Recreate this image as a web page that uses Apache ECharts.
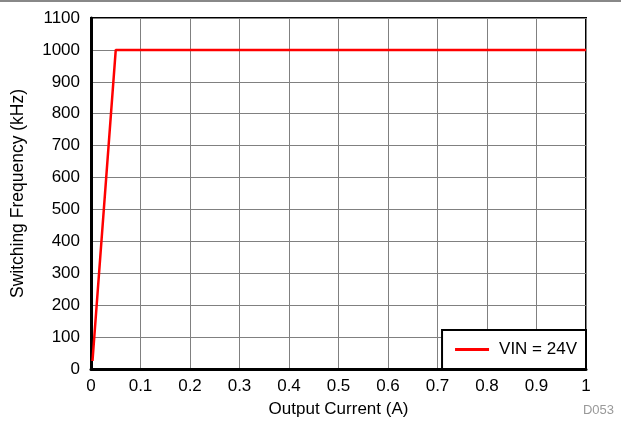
<!DOCTYPE html>
<html><head><meta charset="utf-8">
<script src="https://cdn.jsdelivr.net/npm/echarts@6/dist/echarts.min.js"></script>
<style>html,body{margin:0;padding:0;background:#fff}#c{width:621px;height:427px}</style>
</head><body><div id="c"></div>
<script>
const currentA = [0.003, 0.05, 1.0];
const freqKHz = [25, 1000, 1000];
const seriesName = 'VIN = 24V';
const xTicks = [0,0.1,0.2,0.3,0.4,0.5,0.6,0.7,0.8,0.9,1];
const yTicks = [0,100,200,300,400,500,600,700,800,900,1000,1100];

const chart = echarts.init(document.getElementById('c'), null, {renderer:'canvas'});
const font = 'Liberation Sans, Arial, sans-serif';
chart.setOption({
  animation:false,
  grid:{left:91,right:35,top:18,bottom:58,show:true,borderColor:'#000',borderWidth:2,backgroundColor:'transparent'},
  xAxis:{type:'value',min:0,max:1,interval:0.1,
    name:'Output Current (A)',nameLocation:'middle',nameGap:32,
    nameTextStyle:{fontFamily:font,fontSize:17,color:'#000'},
    axisLine:{show:true,lineStyle:{color:'#000',width:3}},
    axisTick:{show:false},
    axisLabel:{fontFamily:font,fontSize:17,color:'#000',margin:9,formatter:v=>String(+v.toFixed(1))},
    splitLine:{show:true,lineStyle:{color:'#808080',width:1}}},
  yAxis:{type:'value',min:0,max:1100,interval:100,
    name:'Switching Frequency (kHz)',nameLocation:'middle',nameGap:64,
    nameTextStyle:{fontFamily:font,fontSize:17.5,color:'#000'},
    axisLine:{show:true,lineStyle:{color:'#000',width:3}},
    axisTick:{show:false},
    axisLabel:{fontFamily:font,fontSize:17,color:'#000',margin:11,formatter:v=>String(v)},
    splitLine:{show:true,lineStyle:{color:'#808080',width:1}}},
  legend:{show:true,right:35,bottom:58,orient:'vertical',
    backgroundColor:'#fff',borderColor:'#000',borderWidth:2,padding:[11,9,11,13],
    itemWidth:34,itemHeight:3,itemGap:8,
    textStyle:{fontFamily:font,fontSize:17,color:'#000',padding:[0,0,0,5]},
    data:[{name:seriesName,icon:'rect'}]},
  graphic:[
    {type:'rect',shape:{x:0,y:0,width:621,height:2},style:{fill:'#888'}},
    {type:'text',right:7,top:404,style:{text:'D053',fontFamily:font,fontSize:13,fill:'#999'}}
  ],
  series:[{name:seriesName,type:'line',data:currentA.map((x,i)=>[x,freqKHz[i]]),
    showSymbol:false,lineStyle:{color:'#ff0000',width:2.5},itemStyle:{color:'#ff0000'}}]
});
</script></body></html>
